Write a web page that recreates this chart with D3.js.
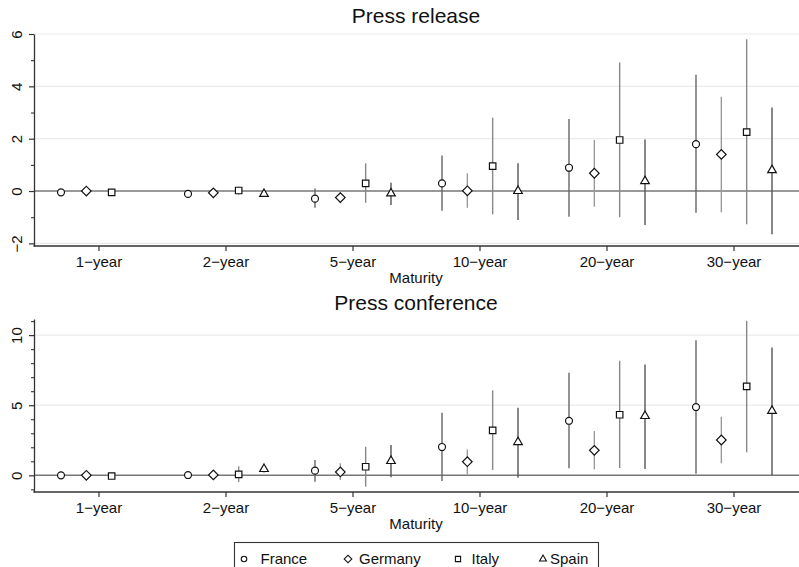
<!DOCTYPE html>
<html>
<head>
<meta charset="utf-8">
<script src="https://cdn.jsdelivr.net/npm/d3@7"></script>
<style>
  body { margin: 0; background: #fff; }
  svg { display: block; font-family: "Liberation Sans", Arial, Helvetica, sans-serif; }
</style>
</head>
<body>
<svg width="799" height="567"></svg>
<script>
// categories
const maturities = ['1−year', '2−year', '5−year', '10−year', '20−year', '30−year'];
const countries = ['France', 'Germany', 'Italy', 'Spain'];

// press release: point estimate and confidence bounds, one row per country
const releaseEst = [
  [-0.05, -0.11, -0.29, 0.29, 0.89, 1.79],
  [0.00, -0.07, -0.25, 0.01, 0.68, 1.40],
  [-0.05, 0.02, 0.29, 0.95, 1.95, 2.25],
  [null, -0.11, -0.09, 0.00, 0.38, 0.80]
];
const releaseLo = [
  [-0.12, -0.18, -0.64, -0.75, -0.98, -0.83],
  [-0.06, -0.14, -0.46, -0.64, -0.60, -0.81],
  [-0.12, -0.14, -0.45, -0.89, -1.00, -1.27],
  [null, -0.20, -0.53, -1.11, -1.30, -1.65]
];
const releaseHi = [
  [0.02, -0.04, 0.10, 1.36, 2.75, 4.44],
  [0.06, 0.00, -0.05, 0.68, 1.95, 3.60],
  [0.02, 0.17, 1.06, 2.80, 4.91, 5.80],
  [null, -0.02, 0.32, 1.06, 1.97, 3.19]
];

// press conference
const conferenceEst = [
  [0.00, 0.02, 0.33, 2.02, 3.89, 4.87],
  [0.00, 0.03, 0.24, 0.97, 1.78, 2.52],
  [-0.05, 0.07, 0.61, 3.20, 4.32, 6.34],
  [null, 0.45, 1.02, 2.37, 4.23, 4.60]
];
const conferenceLo = [
  [-0.10, -0.08, -0.46, -0.41, 0.50, 0.11],
  [-0.08, -0.07, -0.33, 0.07, 0.43, 0.86],
  [-0.15, -0.47, -0.81, 0.38, 0.52, 1.64],
  [null, 0.20, -0.14, -0.17, 0.45, 0.02]
];
const conferenceHi = [
  [0.10, 0.12, 1.09, 4.46, 7.31, 9.64],
  [0.08, 0.13, 0.86, 1.85, 3.16, 4.18],
  [0.05, 0.64, 2.04, 6.06, 8.17, 11.02],
  [null, 0.70, 2.16, 4.82, 7.91, 9.12]
];

// tick labels
const releaseTicks = [-2, 0, 2, 4, 6];
const releaseMinor = [-1, 1, 3, 5];
const conferenceTicks = [0, 5, 10];
const conferenceMinor = [-1, 1, 2, 3, 4, 6, 7, 8, 9, 11];

const svg = d3.select('svg');
const W = 799;
const left = 34;
const fs = '15px';

// x scale: one band per maturity, then an offset per country inside it
const xScale = d3.scaleBand().domain(maturities).range([35.5, 797.5]);
const xOffset = d3.scalePoint().domain(countries).range([-38, 38]);

const ciColor = { France: '#666', Germany: '#9a9a9a', Italy: '#888', Spain: '#555' };

function marker(c, big) {
  const k = big ? 1 : 0.8;
  if (c === 'France') return d3.symbol(d3.symbolCircle, 38 * k * k)();
  if (c === 'Germany') return d3.symbol(d3.symbolSquare, 46 * k * k)();
  if (c === 'Italy') return d3.symbol(d3.symbolSquare, 42 * k * k)();
  return d3.symbol(d3.symbolTriangle, 32 * k * k)();
}

function drawPanel(cfg) {
  const y = d3.scaleLinear().domain(cfg.domain).range([cfg.bottom, cfg.top]);
  const g = svg.append('g');

  g.append('text')
    .attr('x', 416).attr('y', cfg.titleY)
    .attr('text-anchor', 'middle')
    .style('font-size', '21px')
    .attr('fill', '#111')
    .text(cfg.title);

  // light grid
  g.selectAll('.grid')
    .data(cfg.ticks.filter(t => t !== 0))
    .enter()
    .append('line')
    .attr('x1', left).attr('x2', W)
    .attr('y1', d => y(d)).attr('y2', d => y(d))
    .attr('stroke', '#ebebeb').attr('stroke-width', 1.2);

  // zero reference line
  g.append('line')
    .attr('x1', left).attr('x2', W)
    .attr('y1', y(0)).attr('y2', y(0))
    .attr('stroke', '#777').attr('stroke-width', 1.4);

  const pts = [];
  countries.forEach((c, i) => {
    maturities.forEach((m, j) => {
      if (cfg.est[i][j] == null) return;
      pts.push({ c, m, est: cfg.est[i][j], lo: cfg.lo[i][j], hi: cfg.hi[i][j] });
    });
  });
  const px = d => xScale(d.m) + xScale.bandwidth() / 2 + xOffset(d.c);

  g.selectAll('.ci')
    .data(pts)
    .enter()
    .append('line')
    .attr('x1', px).attr('x2', px)
    .attr('y1', d => y(d.lo)).attr('y2', d => y(d.hi))
    .attr('stroke', d => ciColor[d.c]).attr('stroke-width', 1.4);

  g.selectAll('.pt')
    .data(pts)
    .enter()
    .append('path')
    .attr('d', d => marker(d.c, true))
    .attr('transform', d => `translate(${px(d)},${y(d.est)})` + (d.c === 'Germany' ? ' rotate(45)' : ''))
    .attr('fill', '#fff').attr('stroke', '#111').attr('stroke-width', 1.2);

  // y axis
  const yAxis = g.append('g')
    .attr('transform', `translate(${left},0)`)
    .call(d3.axisLeft(y).tickValues(cfg.ticks).tickSize(5).tickSizeOuter(0));
  yAxis.select('.domain').attr('stroke', '#333').attr('stroke-width', 1.3);
  yAxis.selectAll('.tick line').attr('stroke', '#333').attr('stroke-width', 1.2);
  yAxis.selectAll('.tick text')
    .attr('x', 0).attr('dy', 0)
    .attr('text-anchor', 'middle')
    .attr('transform', 'translate(-12,0) rotate(-90)')
    .attr('fill', '#111')
    .style('font-size', fs)
    .text(d => d < 0 ? '−' + Math.abs(d) : d);

  const yMinor = g.append('g')
    .attr('transform', `translate(${left},0)`)
    .call(d3.axisLeft(y).tickValues(cfg.minor).tickSize(3).tickFormat(''));
  yMinor.select('.domain').remove();
  yMinor.selectAll('.tick line').attr('stroke', '#333').attr('stroke-width', 1.1);

  // x axis
  g.append('line')
    .attr('x1', left - 0.6).attr('x2', W)
    .attr('y1', cfg.bottom).attr('y2', cfg.bottom)
    .attr('stroke', '#333').attr('stroke-width', 1.3);
  const xAxis = g.append('g')
    .attr('transform', `translate(0,${cfg.bottom})`)
    .call(d3.axisBottom(xScale).tickSize(5).tickSizeOuter(0));
  xAxis.select('.domain').remove();
  xAxis.selectAll('.tick line').attr('stroke', '#333').attr('stroke-width', 1.2);
  xAxis.selectAll('.tick text')
    .attr('y', 10)
    .attr('fill', '#111')
    .style('font-size', fs);

  g.append('text')
    .attr('x', 416).attr('y', cfg.bottom + 37)
    .attr('text-anchor', 'middle')
    .attr('fill', '#111')
    .style('font-size', fs)
    .text('Maturity');
}

drawPanel({
  title: 'Press release', titleY: 23,
  top: 34, bottom: 246, domain: [-2.1, 6],
  ticks: releaseTicks, minor: releaseMinor,
  est: releaseEst, lo: releaseLo, hi: releaseHi
});

drawPanel({
  title: 'Press conference', titleY: 310,
  top: 319, bottom: 492, domain: [-1.19, 11.15],
  ticks: conferenceTicks, minor: conferenceMinor,
  est: conferenceEst, lo: conferenceLo, hi: conferenceHi
});

// legend
const legend = svg.append('g');
legend.append('rect')
  .attr('x', 234.5).attr('y', 542.5)
  .attr('width', 364).attr('height', 40)
  .attr('fill', 'none').attr('stroke', '#333').attr('stroke-width', 1.1);

const legendX = { France: 244, Germany: 348, Italy: 458, Spain: 543 };
const legendTextX = { France: 260.5, Germany: 359, Italy: 471.5, Spain: 550 };

const items = legend.selectAll('.item')
  .data(countries)
  .enter()
  .append('g');
items.append('path')
  .attr('d', c => marker(c, false))
  .attr('transform', c => `translate(${legendX[c]},559)` + (c === 'Germany' ? ' rotate(45)' : ''))
  .attr('fill', '#fff').attr('stroke', '#111').attr('stroke-width', 1.1);
items.append('text')
  .attr('x', c => legendTextX[c]).attr('y', 564)
  .attr('fill', '#111')
  .style('font-size', fs)
  .text(c => c);
</script>
</body>
</html>
